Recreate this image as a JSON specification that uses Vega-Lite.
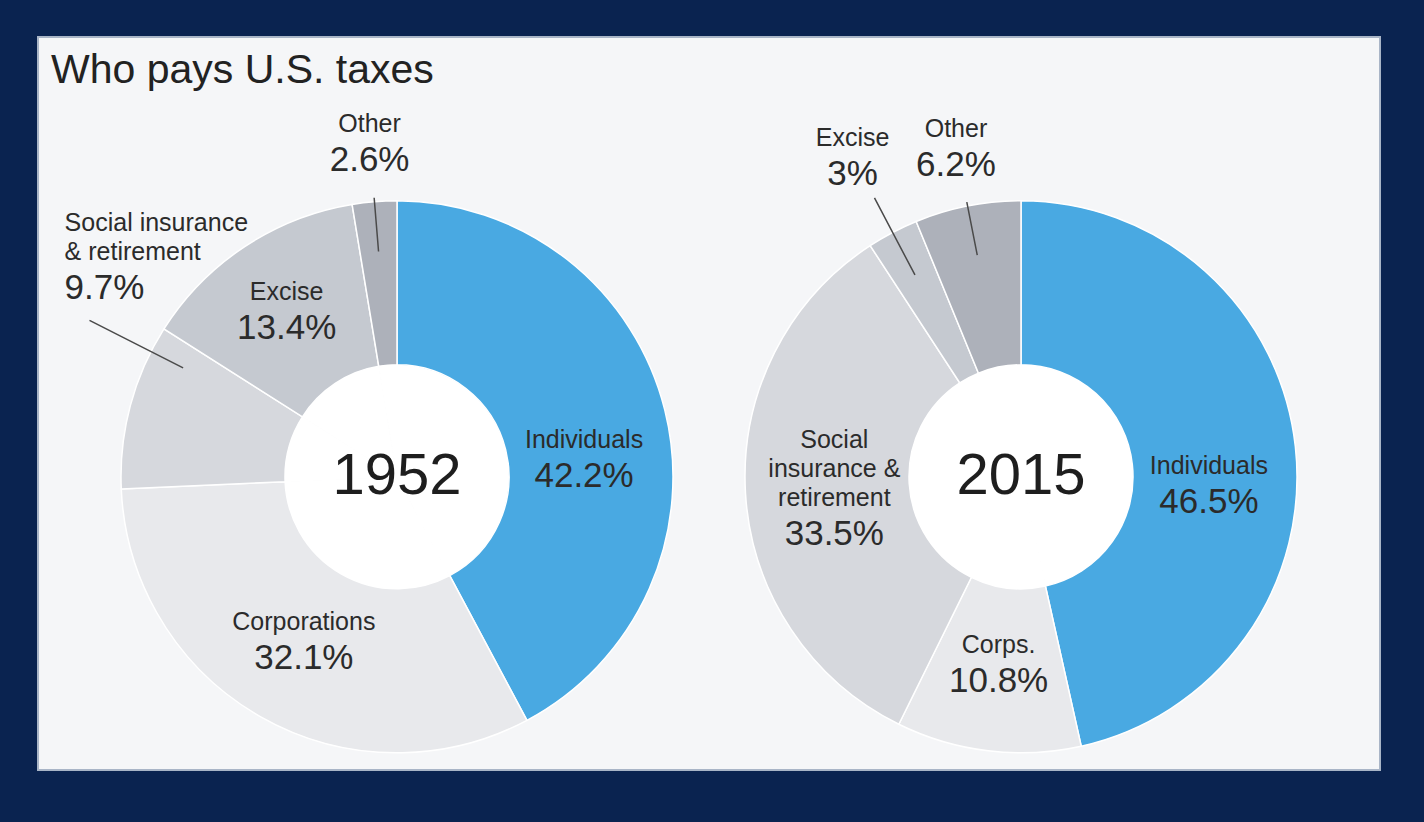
{
  "$schema": "https://vega.github.io/schema/vega-lite/v6.json",
  "width": 1424,
  "height": 822,
  "autosize": {"type": "fit", "contains": "padding"},
  "padding": {"left": 38, "top": 37, "right": 44, "bottom": 52},
  "background": "#0a2350",
  "config": {
    "view": {"fill": "#f5f6f8", "stroke": "#a9b5c7", "strokeWidth": 2},
    "text": {"font": "Liberation Sans"}
  },
  "title": {
    "text": "Who pays U.S. taxes",
    "anchor": "start",
    "frame": "group",
    "offset": -55,
    "dx": 13,
    "font": "Liberation Sans",
    "fontSize": 41,
    "fontWeight": "normal",
    "color": "#222222"
  },
  "data": {
    "values": [
      {"year": 1952, "category": "Individuals", "name": "Individuals", "pct": 42.2, "order": 1},
      {"year": 1952, "category": "Corporations", "name": "Corporations", "pct": 32.1, "order": 2},
      {"year": 1952, "category": "Social", "name": "Social insurance\n& retirement", "pct": 9.7, "order": 3},
      {"year": 1952, "category": "Excise", "name": "Excise", "pct": 13.4, "order": 4},
      {"year": 1952, "category": "Other", "name": "Other", "pct": 2.6, "order": 5},
      {"year": 2015, "category": "Individuals", "name": "Individuals", "pct": 46.5, "order": 1},
      {"year": 2015, "category": "Corporations", "name": "Corps.", "pct": 10.8, "order": 2},
      {"year": 2015, "category": "Social", "name": "Social\ninsurance &\nretirement", "pct": 33.5, "order": 3},
      {"year": 2015, "category": "Excise", "name": "Excise", "pct": 3, "order": 4},
      {"year": 2015, "category": "Other", "name": "Other", "pct": 6.2, "order": 5}
    ]
  },
  "transform": [
    {"stack": "pct", "groupby": ["year"], "sort": [{"field": "order", "order": "ascending"}], "as": ["t0", "t1"]},
    {"calculate": "(datum.t0 + datum.t1) / 2", "as": "mid"},
    {"calculate": "format(datum.pct, '.1~f') + '%'", "as": "pctLabel"}
  ],
  "encoding": {
    "x": {"field": "year", "type": "nominal", "scale": {"type": "point", "padding": 0.5753}, "axis": null},
    "y": {"datum": 0, "type": "quantitative", "scale": {"domain": [-0.4, 0.6], "nice": false, "zero": false}, "axis": null}
  },
  "layer": [
    {
      "mark": {"type": "arc", "outerRadius": 112, "innerRadius": 0, "fill": "#ffffff", "stroke": "#ffffff", "strokeWidth": 1},
      "encoding": {
        "theta": {"field": "t0", "type": "quantitative", "scale": {"domain": [0, 100]}},
        "theta2": {"field": "t1"}
      }
    },
    {
      "mark": {"type": "arc", "outerRadius": 276, "innerRadius": 112, "stroke": "#ffffff", "strokeWidth": 1.5},
      "encoding": {
        "theta": {"field": "t0", "type": "quantitative", "scale": {"domain": [0, 100]}},
        "theta2": {"field": "t1"},
        "color": {
          "field": "category",
          "type": "nominal",
          "scale": {
            "domain": ["Individuals", "Corporations", "Social", "Excise", "Other"],
            "range": ["#49a9e2", "#e8e9ec", "#d6d8dd", "#c5c9d0", "#adb1ba"]
          },
          "legend": null
        }
      }
    },
    {
      "transform": [{"filter": "datum.category == 'Other'"}],
      "mark": {"type": "arc", "innerRadius": 226, "outerRadius": 280, "fill": "transparent", "stroke": "#4a4a4a", "strokeWidth": 1.5},
      "encoding": {
        "theta": {"field": "mid", "type": "quantitative", "scale": {"domain": [0, 100]}},
        "theta2": {"field": "mid"}
      }
    },
    {
      "transform": [{"filter": "datum.category == 'Excise' && datum.pct < 10"}],
      "mark": {"type": "arc", "innerRadius": 228, "outerRadius": 315, "fill": "transparent", "stroke": "#4a4a4a", "strokeWidth": 1.5},
      "encoding": {
        "theta": {"field": "mid", "type": "quantitative", "scale": {"domain": [0, 100]}},
        "theta2": {"field": "mid"}
      }
    },
    {
      "transform": [{"filter": "datum.year == 1952 && datum.category == 'Social'"}],
      "mark": {"type": "arc", "innerRadius": 240, "outerRadius": 345, "thetaOffset": 0.21, "theta2Offset": 0.21, "fill": "transparent", "stroke": "#4a4a4a", "strokeWidth": 1.5},
      "encoding": {
        "theta": {"field": "mid", "type": "quantitative", "scale": {"domain": [0, 100]}},
        "theta2": {"field": "mid"}
      }
    },
    {
      "transform": [{"filter": "datum.category == 'Corporations'"}],
      "mark": {"type": "text", "radius": 188, "dy": -10, "fontSize": 25, "baseline": "alphabetic", "align": "center", "fill": "#2b2b2b"},
      "encoding": {
        "theta": {"field": "mid", "type": "quantitative", "stack": null, "scale": {"domain": [0, 100]}},
        "text": {"field": "name", "type": "nominal"}
      }
    },
    {
      "transform": [{"filter": "datum.category == 'Corporations'"}],
      "mark": {"type": "text", "radius": 188, "dy": 29, "fontSize": 35, "baseline": "alphabetic", "align": "center", "fill": "#2b2b2b"},
      "encoding": {
        "theta": {"field": "mid", "type": "quantitative", "stack": null, "scale": {"domain": [0, 100]}},
        "text": {"field": "pctLabel", "type": "nominal"}
      }
    },
    {
      "transform": [{"filter": "datum.category == 'Excise' && datum.pct >= 10"}],
      "mark": {"type": "text", "radius": 200, "dy": -10, "fontSize": 25, "baseline": "alphabetic", "align": "center", "fill": "#2b2b2b"},
      "encoding": {
        "theta": {"field": "mid", "type": "quantitative", "stack": null, "scale": {"domain": [0, 100]}},
        "text": {"field": "name", "type": "nominal"}
      }
    },
    {
      "transform": [{"filter": "datum.category == 'Excise' && datum.pct >= 10"}],
      "mark": {"type": "text", "radius": 200, "dy": 29, "fontSize": 35, "baseline": "alphabetic", "align": "center", "fill": "#2b2b2b"},
      "encoding": {
        "theta": {"field": "mid", "type": "quantitative", "stack": null, "scale": {"domain": [0, 100]}},
        "text": {"field": "pctLabel", "type": "nominal"}
      }
    },
    {
      "transform": [{"filter": "datum.category == 'Individuals'"}],
      "mark": {"type": "text", "radius": 188, "thetaOffset": 0.146, "dy": -10, "fontSize": 25, "baseline": "alphabetic", "align": "center", "fill": "#2b2b2b"},
      "encoding": {
        "theta": {"field": "mid", "type": "quantitative", "stack": null, "scale": {"domain": [0, 100]}},
        "text": {"field": "name", "type": "nominal"}
      }
    },
    {
      "transform": [{"filter": "datum.category == 'Individuals'"}],
      "mark": {"type": "text", "radius": 188, "thetaOffset": 0.146, "dy": 29, "fontSize": 35, "baseline": "alphabetic", "align": "center", "fill": "#2b2b2b"},
      "encoding": {
        "theta": {"field": "mid", "type": "quantitative", "stack": null, "scale": {"domain": [0, 100]}},
        "text": {"field": "pctLabel", "type": "nominal"}
      }
    },
    {
      "transform": [{"filter": "datum.year == 2015 && datum.category == 'Social'"}],
      "mark": {"type": "text", "radius": 187, "dy": -40, "fontSize": 25, "lineHeight": 29, "lineBreak": "\n", "baseline": "alphabetic", "align": "center", "fill": "#2b2b2b"},
      "encoding": {
        "theta": {"field": "mid", "type": "quantitative", "stack": null, "scale": {"domain": [0, 100]}},
        "text": {"field": "name", "type": "nominal"}
      }
    },
    {
      "transform": [{"filter": "datum.year == 2015 && datum.category == 'Social'"}],
      "mark": {"type": "text", "radius": 187, "dy": 57, "fontSize": 35, "baseline": "alphabetic", "align": "center", "fill": "#2b2b2b"},
      "encoding": {
        "theta": {"field": "mid", "type": "quantitative", "stack": null, "scale": {"domain": [0, 100]}},
        "text": {"field": "pctLabel", "type": "nominal"}
      }
    },
    {
      "transform": [{"filter": "datum.category == 'Other'"}],
      "mark": {"type": "text", "radius": 336, "dy": -10, "fontSize": 25, "baseline": "alphabetic", "align": "center", "fill": "#2b2b2b"},
      "encoding": {
        "theta": {"field": "mid", "type": "quantitative", "stack": null, "scale": {"domain": [0, 100]}},
        "text": {"field": "name", "type": "nominal"}
      }
    },
    {
      "transform": [{"filter": "datum.category == 'Other'"}],
      "mark": {"type": "text", "radius": 336, "dy": 29, "fontSize": 35, "baseline": "alphabetic", "align": "center", "fill": "#2b2b2b"},
      "encoding": {
        "theta": {"field": "mid", "type": "quantitative", "stack": null, "scale": {"domain": [0, 100]}},
        "text": {"field": "pctLabel", "type": "nominal"}
      }
    },
    {
      "transform": [{"filter": "datum.category == 'Excise' && datum.pct < 10"}],
      "mark": {"type": "text", "radius": 362, "dy": -10, "fontSize": 25, "baseline": "alphabetic", "align": "center", "fill": "#2b2b2b"},
      "encoding": {
        "theta": {"field": "mid", "type": "quantitative", "stack": null, "scale": {"domain": [0, 100]}},
        "text": {"field": "name", "type": "nominal"}
      }
    },
    {
      "transform": [{"filter": "datum.category == 'Excise' && datum.pct < 10"}],
      "mark": {"type": "text", "radius": 362, "dy": 29, "fontSize": 35, "baseline": "alphabetic", "align": "center", "fill": "#2b2b2b"},
      "encoding": {
        "theta": {"field": "mid", "type": "quantitative", "stack": null, "scale": {"domain": [0, 100]}},
        "text": {"field": "pctLabel", "type": "nominal"}
      }
    },
    {
      "transform": [{"filter": "datum.year == 1952 && datum.category == 'Social'"}],
      "mark": {"type": "text", "radius": 399, "thetaOffset": 0.3255, "dy": -25, "fontSize": 25, "lineHeight": 29, "lineBreak": "\n", "baseline": "alphabetic", "align": "left", "fill": "#2b2b2b"},
      "encoding": {
        "theta": {"field": "mid", "type": "quantitative", "stack": null, "scale": {"domain": [0, 100]}},
        "text": {"field": "name", "type": "nominal"}
      }
    },
    {
      "transform": [{"filter": "datum.year == 1952 && datum.category == 'Social'"}],
      "mark": {"type": "text", "radius": 399, "thetaOffset": 0.3255, "dy": 43, "fontSize": 35, "baseline": "alphabetic", "align": "left", "fill": "#2b2b2b"},
      "encoding": {
        "theta": {"field": "mid", "type": "quantitative", "stack": null, "scale": {"domain": [0, 100]}},
        "text": {"field": "pctLabel", "type": "nominal"}
      }
    },
    {
      "transform": [{"filter": "datum.category == 'Individuals'"}],
      "mark": {"type": "text", "fontSize": 58, "baseline": "middle", "align": "center", "fill": "#1e1e1e"},
      "encoding": {
        "text": {"field": "year", "type": "nominal"}
      }
    }
  ]
}
